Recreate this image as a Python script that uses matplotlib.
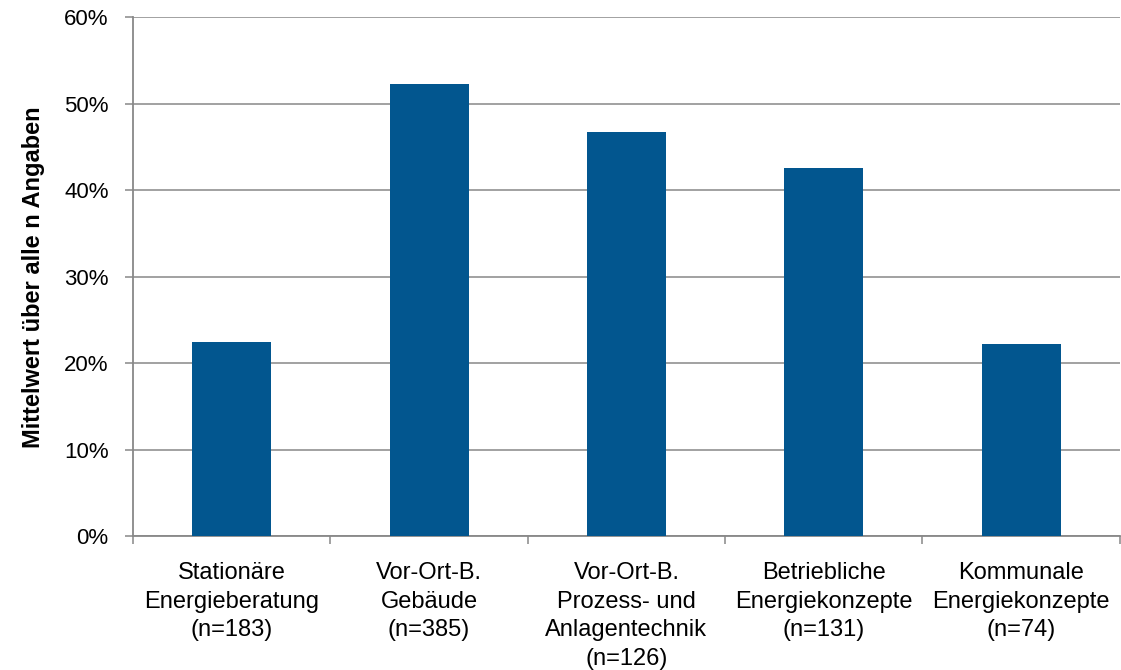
import matplotlib
matplotlib.use("Agg")
import matplotlib.pyplot as plt
from matplotlib.ticker import FixedLocator, PercentFormatter

plt.rcParams['font.family'] = ['Liberation Sans', 'DejaVu Sans']

categories = [
    "Stationäre\nEnergieberatung\n(n=183)",
    "Vor-Ort-B.\nGebäude\n(n=385)",
    "Vor-Ort-B.\nProzess- und\nAnlagentechnik\n(n=126)",
    "Betriebliche\nEnergiekonzepte\n(n=131)",
    "Kommunale\nEnergiekonzepte\n(n=74)",
]
values = [22.4, 52.3, 46.8, 42.6, 22.2]
y_ticks = [0, 10, 20, 30, 40, 50, 60]
y_label = "Mittelwert über alle n Angaben"

bar_color = "#02568F"
axis_color = "#888888"

fig = plt.figure(figsize=(11.21, 6.70), dpi=100)
ax = fig.add_axes([0.1186, 0.2, 0.8804, 0.774])

x = list(range(len(categories)))
ax.bar(x, values, width=0.40, color=bar_color, zorder=3)

ax.set_xlim(-0.5, len(categories) - 0.5)
ax.set_ylim(0, 60)
ax.set_yticks(y_ticks)
ax.yaxis.set_major_formatter(PercentFormatter(decimals=0))
ax.yaxis.grid(True, color=axis_color, linewidth=1.1, zorder=0)

ax.set_xticks(x)
ax.set_xticklabels(categories, fontsize=17, linespacing=1.38)
ax.xaxis.set_minor_locator(FixedLocator([i - 0.5 for i in range(len(categories) + 1)]))
ax.tick_params(axis='x', which='major', length=0, pad=19)
ax.tick_params(axis='x', which='minor', length=6, width=1.1, color=axis_color)
ax.tick_params(axis='y', length=5.5, width=1.1, color=axis_color, pad=12, labelsize=16)

for side in ("top", "right"):
    ax.spines[side].set_visible(False)
for side in ("left", "bottom"):
    ax.spines[side].set_color(axis_color)
    ax.spines[side].set_linewidth(1.3)

ax.set_ylabel(y_label, fontsize=17, fontweight="bold", labelpad=14)

fig.savefig("out.png", dpi=100)
